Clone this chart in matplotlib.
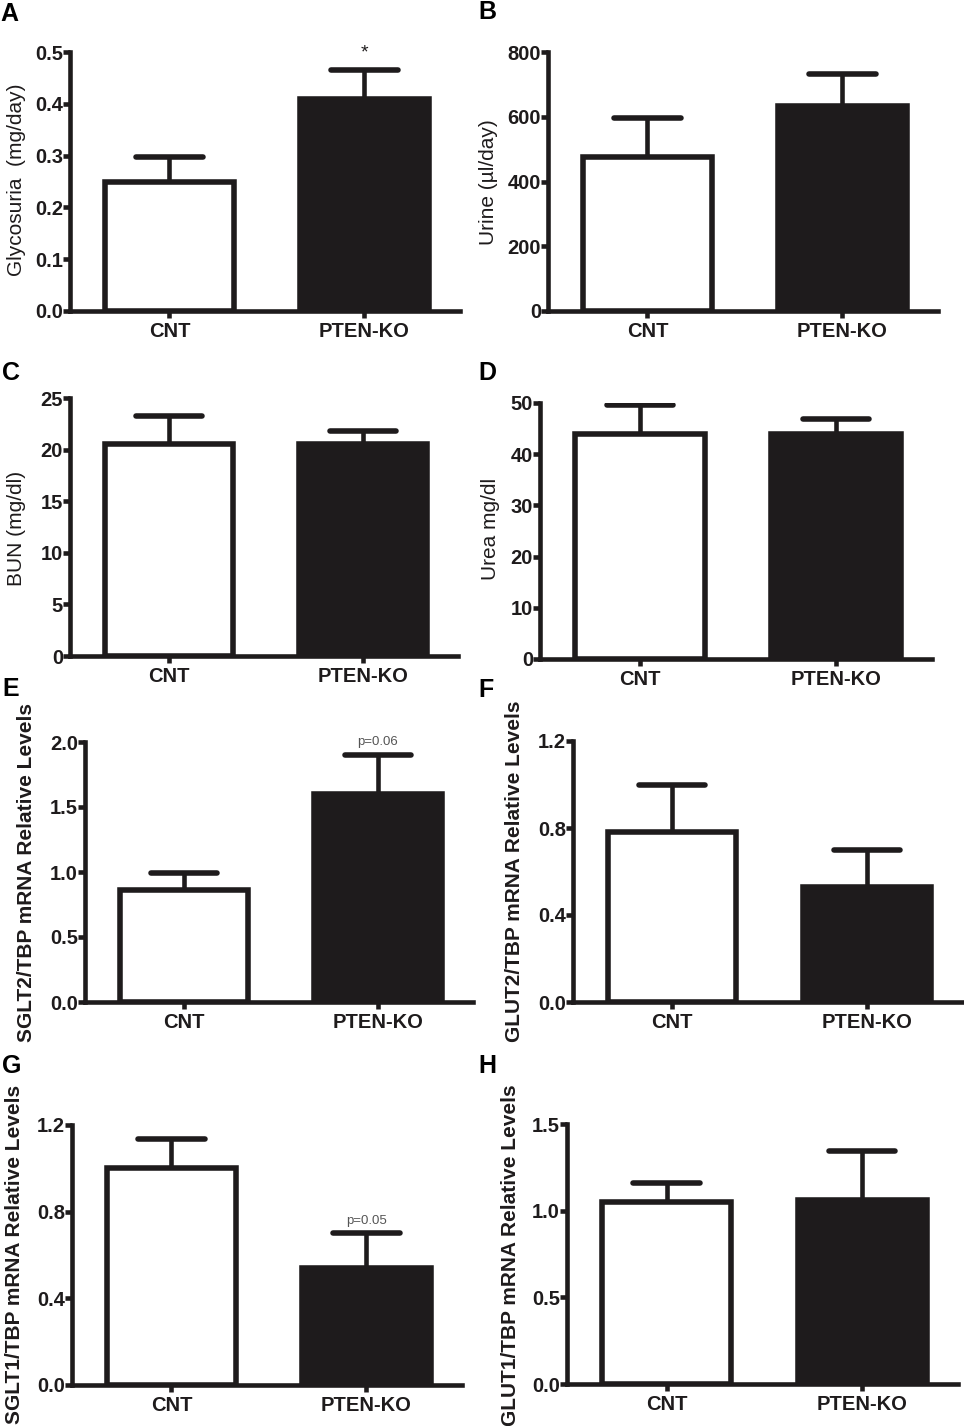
import matplotlib
matplotlib.use('Agg')
import matplotlib.pyplot as plt

plt.rcParams['font.family'] = ['Liberation Sans', 'DejaVu Sans']

# data
groups = ['CNT', 'PTEN-KO']

glyco = [0.25, 0.41]
glyco_err = [0.047, 0.055]
urine = [475, 633]
urine_err = [122, 100]
bun = [20.5, 20.5]
bun_err = [2.8, 1.3]
urea = [44.0, 43.9]
urea_err = [5.7, 3.0]
sglt2 = [0.86, 1.60]
sglt2_err = [0.13, 0.30]
glut2 = [0.78, 0.53]
glut2_err = [0.22, 0.17]
sglt1 = [1.00, 0.54]
sglt1_err = [0.135, 0.16]
glut1 = [1.05, 1.06]
glut1_err = [0.11, 0.285]

ink = '#1e1b1c'
W, H = 964, 1426

fig = plt.figure(figsize=(W / 100, H / 100), dpi=100)


def panel(box, vals, errs, yticks, ylabel, label_xy, bold_label,
          letter, letter_xy, note=None, note_off=10):
    # box = left, right, zero-line y, top y  (pixels)
    x0, x1, yb, yt = box
    ax = fig.add_axes([x0 / W, 1 - yb / H, (x1 - x0) / W, (yb - yt) / H])
    xs = range(len(groups))
    ax.bar(xs, vals, width=0.66, color=['white', ink], edgecolor=ink,
           linewidth=4.0, zorder=3)
    tops = [v + e for v, e in zip(vals, errs)]
    ax.vlines(xs, vals, tops, color=ink, linewidth=3.3, zorder=2)
    caps = ax.hlines(tops, [x - 0.17 for x in xs], [x + 0.17 for x in xs],
                     color=ink, linewidth=4.0, zorder=2)
    caps.set_capstyle('round')
    ax.set_xlim(-0.51, 1.49)
    ax.set_ylim(0, yticks[-1])
    ax.set_yticks(yticks)
    ax.set_xticks(list(xs))
    ax.set_xticklabels(groups)
    for s in ['top', 'right']:
        ax.spines[s].set_visible(False)
    for s in ['left', 'bottom']:
        ax.spines[s].set_linewidth(3.3)
        ax.spines[s].set_color(ink)
    ax.tick_params(axis='both', direction='out', length=5, width=3.3,
                   color=ink, labelcolor=ink, labelsize=14.5, pad=0)
    ax.tick_params(axis='x', pad=3)
    for t in ax.get_xticklabels() + ax.get_yticklabels():
        t.set_fontweight('bold')
    if note:
        ax.annotate(note[0], xy=(1, tops[1]), xytext=(0, note_off),
                    textcoords='offset points', ha='center', va='center',
                    fontsize=note[1], color=note[2], annotation_clip=False)
    fig.text(label_xy[0] / W, 1 - label_xy[1] / H, ylabel, rotation=90,
             ha='center', va='center', fontsize=15, color=ink,
             fontweight='bold' if bold_label else 'normal')
    fig.text(letter_xy[0] / W, 1 - letter_xy[1] / H, letter, ha='left',
             va='center', fontsize=18, fontweight='bold', color='black')
    return ax


panel((70, 460, 311, 52), glyco, glyco_err, [0.0, 0.1, 0.2, 0.3, 0.4, 0.5],
      'Glycosuria  (mg/day)', (17, 180), False, 'A', (0, 14),
      note=('*', 14, ink), note_off=12)
panel((548, 938, 311, 52), urine, urine_err, [0, 200, 400, 600, 800],
      'Urine (µl/day)', (488, 182), False, 'B', (478, 12))
panel((70, 458, 656, 398), bun, bun_err, [0, 5, 10, 15, 20, 25],
      'BUN (mg/dl)', (17, 528), False, 'C', (2, 373))
panel((540, 932, 659, 403), urea, urea_err, [0, 10, 20, 30, 40, 50],
      'Urea mg/dl', (491, 529), False, 'D', (478, 373))
panel((85, 473, 1002, 742), sglt2, sglt2_err, [0.0, 0.5, 1.0, 1.5, 2.0],
      'SGLT2/TBP mRNA Relative Levels', (27, 873), True, 'E', (2, 689),
      note=('p=0.06', 9.5, '#555555'), note_off=9)
panel((573, 962, 1002, 741), glut2, glut2_err, [0.0, 0.4, 0.8, 1.2],
      'GLUT2/TBP mRNA Relative Levels', (515, 871), True, 'F', (478, 690))
panel((72, 462, 1385, 1125), sglt1, sglt1_err, [0.0, 0.4, 0.8, 1.2],
      'SGLT1/TBP mRNA Relative Levels', (15, 1254), True, 'G', (2, 1066),
      note=('p=0.05', 9.5, '#555555'), note_off=9)
panel((567, 958, 1384, 1124), glut1, glut1_err, [0.0, 0.5, 1.0, 1.5],
      'GLUT1/TBP mRNA Relative Levels', (510, 1255), True, 'H', (478, 1066))

fig.savefig('out.png', dpi=100)
